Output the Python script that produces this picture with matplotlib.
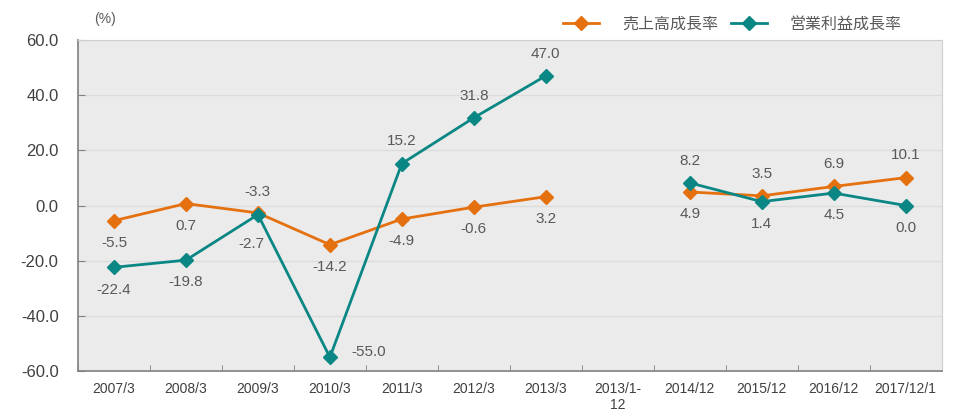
import matplotlib.pyplot as plt
import numpy as np

plt.rcParams['font.family'] = ['Liberation Sans', 'Noto Sans CJK JP', 'DejaVu Sans']

# データ
categories = ['2007/3', '2008/3', '2009/3', '2010/3', '2011/3', '2012/3', '2013/3',
              '2013/1-\n12', '2014/12', '2015/12', '2016/12', '2017/12/1']
sales = [-5.5, 0.7, -2.7, -14.2, -4.9, -0.6, 3.2, np.nan, 4.9, 3.5, 6.9, 10.1]
profit = [-22.4, -19.8, -3.3, -55.0, 15.2, 31.8, 47.0, np.nan, 8.2, 1.4, 4.5, 0.0]
sales_pos = ['b', 'b', 'bb', 'b', 'b', 'b', 'b', None, 'b', 't', 't', 't']
profit_pos = ['b', 'b', 't', 'r', 't', 't', 't', None, 't', 'b', 'b', 'b']

orange = '#e5700f'
teal = '#0a8784'
gray_text = '#595959'

fig = plt.figure(figsize=(9.56, 4.16), dpi=100)
ax = fig.add_axes([0.0816, 0.108, 0.9034, 0.796])
ax.set_facecolor('#ebebeb')

x = np.arange(len(categories))
ax.plot(x, sales, color=orange, lw=2.0, marker='D', ms=7, label='売上高成長率', zorder=3)
ax.plot(x, profit, color=teal, lw=2.0, marker='D', ms=7, label='営業利益成長率', zorder=4)

offsets = {'b': (0, -16), 't': (0, 16), 'r': (28, 4), 'bb': (-5, -22)}
for series, pos in ((sales, sales_pos), (profit, profit_pos)):
    for i, v in enumerate(series):
        if np.isnan(v):
            continue
        ax.annotate('%.1f' % v, (x[i], v), xytext=offsets[pos[i]], textcoords='offset points',
                    ha='center', va='center', fontsize=11, color=gray_text)

ax.set_xlim(-0.5, len(categories) - 0.5)
ax.set_ylim(-60, 60)
ax.set_yticks(np.arange(-60, 61, 20))
ax.set_yticklabels(['%.1f' % t for t in np.arange(-60, 61, 20)], fontsize=12, color='#404040')
ax.set_xticks(x)
ax.set_xticklabels(categories, fontsize=10, color='#404040')
ax.set_xticks(np.arange(-0.5, len(categories), 1), minor=True)
ax.tick_params(axis='x', which='major', length=0, pad=8)
ax.tick_params(axis='x', which='minor', direction='in', length=4, color='#808080')
ax.tick_params(axis='y', direction='in', length=5, color='#808080', pad=14)

ax.grid(axis='y', color='#dcdcdc', lw=1)
ax.set_axisbelow(True)
for s in ['left', 'bottom']:
    ax.spines[s].set_color('#808080')
    ax.spines[s].set_linewidth(1.2)
for s in ['top', 'right']:
    ax.spines[s].set_color('#cfcfcf')

fig.text(0.11, 0.955, '(%)', fontsize=10, color=gray_text, ha='center', va='center')
ax.legend(loc='lower right', bbox_to_anchor=(0.963, 1.0), ncol=2, frameon=False,
          fontsize=11.5, labelcolor=gray_text, handlelength=2.3, handletextpad=1.4,
          columnspacing=0.8, borderaxespad=0.1)

fig.savefig('out.png', dpi=100)
